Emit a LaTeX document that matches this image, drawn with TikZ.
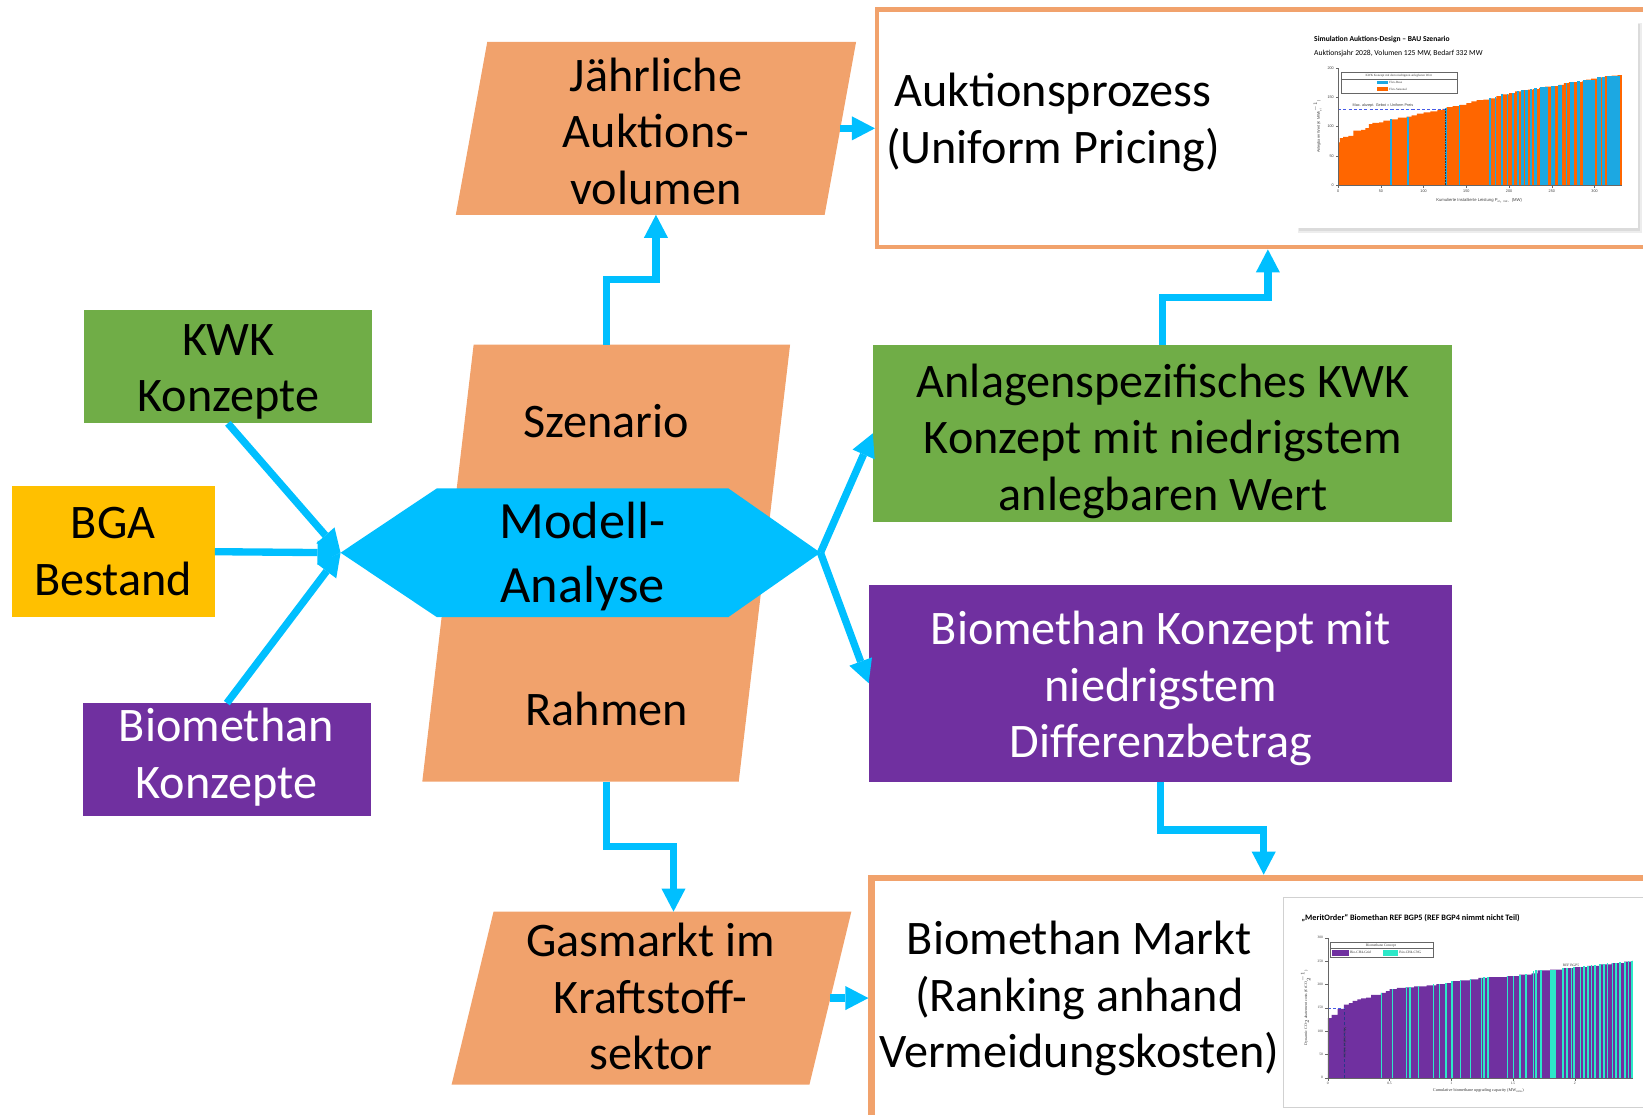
\documentclass[tikz,border=0pt]{standalone}
\usepackage{fontspec}
\setmainfont{Carlito}
\newfontfamily\plotsans{Liberation Sans}
\newfontfamily\plotserif{Liberation Serif}
\usetikzlibrary{arrows.meta,calc}

\definecolor{paraorange}{RGB}{241,162,108}
\definecolor{kwkgreen}{RGB}{112,173,71}
\definecolor{bgagold}{RGB}{255,192,0}
\definecolor{bmpurple}{RGB}{112,48,160}
\definecolor{flowblue}{RGB}{0,191,255}
\definecolor{barorange}{RGB}{255,102,0}
\definecolor{barblue}{RGB}{28,168,226}
\definecolor{barcyan}{RGB}{44,232,200}
\definecolor{refblue}{RGB}{70,90,230}

% invisible strut: 0.9em above and 0.3em below the baseline
\newcommand\linestrut{\rule[-0.3em]{0pt}{1.2em}}

\begin{document}
\begin{tikzpicture}[x=1pt,y=-1pt,
  blk/.style={inner sep=0pt, outer sep=0pt},
  lbl/.style={anchor=north, inner sep=0pt, outer sep=0pt, align=center,
              font=\fontsize{46}{54}\selectfont},
  flow/.style={draw=flowblue, line width=7pt,
               -{Triangle[length=22pt,width=23pt,line width=0pt]}},
  tiny/.style={inner sep=0pt, outer sep=0pt, text=black!75,
               font=\plotsans\fontsize{3.6}{4}\selectfont},
  tinyserif/.style={inner sep=0pt, outer sep=0pt, text=black!80,
               font=\plotserif\fontsize{3.4}{4}\selectfont},
  charttitle/.style={anchor=base west, inner sep=0pt,
               font=\bfseries\fontsize{7.2}{8}\selectfont},
  axisline/.style={draw=black!60, line width=0.3pt},
]
\useasboundingbox (0,0) rectangle (1568,1064);
\clip (0,0) rectangle (1568,1064);

% ---------- input boxes on the left
\node[blk, fill=kwkgreen, minimum width=275pt, minimum height=108pt] (kwk) at (217.5,350) {};
\node[blk, fill=bgagold,  minimum width=194pt, minimum height=125pt] (bga) at (108,526.5) {};
\node[blk, fill=bmpurple, minimum width=275pt, minimum height=108pt] (bmk) at (216.5,725) {};

% ---------- scenario / frame parallelogram
\node[blk, minimum width=302pt, minimum height=417pt] (sr) at (578.5,537.5) {};
\fill[paraorange] ($(sr.north west)+(24.5,0)$) -- ($(sr.north east)+(24.5,0)$)
  -- ($(sr.south east)+(-24.5,0)$) -- ($(sr.south west)+(-24.5,0)$) -- cycle;

% ---------- model hexagon
\node[blk, minimum width=458pt, minimum height=123pt] (ma) at (554,527.5) {};
\fill[flowblue] (ma.west) -- ($(ma.north west)+(92,0)$) -- ($(ma.north east)+(-88,0)$)
  -- (ma.east) -- ($(ma.south east)+(-88,0)$) -- ($(ma.south west)+(92,0)$) -- cycle;

% ---------- annual auction volume
\node[blk, minimum width=352pt, minimum height=165pt] (jv) at (626,122.5) {};
\fill[paraorange] ($(jv.north west)+(15,0)$) -- ($(jv.north east)+(15,0)$)
  -- ($(jv.south east)+(-15,0)$) -- ($(jv.south west)+(-15,0)$) -- cycle;

% ---------- gas market in the fuel sector
\node[blk, minimum width=341.5pt, minimum height=165pt] (gm) at (621.75,952.5) {};
\fill[paraorange] ($(gm.north west)+(20,0)$) -- ($(gm.north east)+(20,0)$)
  -- ($(gm.south east)+(-20,0)$) -- ($(gm.south west)+(-20,0)$) -- cycle;

% ---------- result boxes on the right
\node[blk, draw=paraorange, line width=4pt, fill=white, outer sep=2pt,
      minimum width=746pt, minimum height=227pt] (auk) at (1210,122.5) {};
\node[blk, fill=kwkgreen, minimum width=553pt, minimum height=169pt] (kon) at (1109.5,413.5) {};
\node[blk, fill=bmpurple, minimum width=557pt, minimum height=188pt] (pur) at (1107.5,652) {};
\node[blk, draw=paraorange, line width=6.5pt, fill=white, outer sep=3.25pt,
      minimum width=748pt, minimum height=252pt] (bm) at (1206,964) {};

% ---------- texts
\node[lbl] (kwkt) at (218,297.6) {\linestrut KWK\\Konzepte};
\node[lbl] (bgat) at (108,472.6) {\linestrut BGA\\Bestand};
\node[lbl, text=white] (bmkt) at (216,666.6) {\linestrut Biomethan\\Konzepte};
\node[lbl] (jvt) at (626,45.6) {\linestrut Jährliche\\Auktions-\\volumen};
\node[lbl] (szt) at (578.5,376.6) {\linestrut Szenario};
\node[lbl] (rat) at (579,650.6) {\linestrut Rahmen};
\node[lbl, font=\fontsize{50}{61}\selectfont] (mat) at (556,469) {\linestrut Modell-\\Analyse};
\node[lbl] (gmt) at (621,871.6) {\linestrut Gasmarkt im\\Kraftstoff-\\sektor};
\node[lbl] (aukt) at (1005,60.6) {\linestrut Auktionsprozess\\(Uniform Pricing)};
\node[lbl] (kont) at (1110,337.6) {\linestrut Anlagenspezifisches KWK\\Konzept mit niedrigstem\\anlegbaren Wert};
\node[lbl, text=white] (purt) at (1108,573.6) {\linestrut Biomethan Konzept mit\\niedrigstem\\Differenzbetrag};
\node[lbl] (bmt) at (1030,869.6) {\linestrut Biomethan Markt\\(Ranking anhand\\Vermeidungskosten)};

% ---------- connectors
\draw[flow] (kwk.south) -- (ma.west);
\draw[flow] (bga.east) -- (ma.west);
\draw[flow] (bmk.north) -- (ma.west);
\draw[flow] (sr.north) -- ++(0,-62) -| (jv.south);
\draw[flow] (jv.east) -- (auk.west);
\draw[flow] (ma.east) -- (kon.west);
\draw[flow] (ma.east) -- (pur.west);
\draw[flow] (kon.north) -- ++(0,-45) -| (auk.south);
\draw[flow] (pur.south) -- ++(0,46) -| (bm.north);
\draw[flow] (sr.south) -- ++(0,62) -| ($(gm.north)+(21,0)$);
\draw[flow] (gm.east) -- (bm.west |- gm.east);

% ---------- auction simulation slide
\fill[black!7] (1239,22) rectangle (1567.5,222.5);
\fill[black!14] (1239.5,22.5) rectangle (1565.5,220.5);
\fill[white] (1237,20) rectangle (1563,218);
\node[charttitle] (c1title) at (1254,40) {Simulation Auktions-Design – BAU Szenario};
\node[charttitle, font=\fontsize{7.3}{8}\selectfont] (c1sub) at (1254,53) {Auktionsjahr 2028, Volumen 125 MW, Bedarf 332 MW};
\begin{scope}[shift={(1277,176.5)}, x=0.816pt, y=0.558pt]
  \fill[barorange] (0,0) -- plot[const plot] coordinates {
    (0,73) (2,80) (6,82) (12,84) (18,93) (27,94) (32,97) (36,104) (40,106)
    (48,107) (53,110) (62,112) (70,115) (80,117) (86,119) (92,122) (100,124)
    (108,126) (116,128) (122,130) (127,133) (134,135) (142,137) (150,140)
    (156,143) (162,145) (170,146) (177,148) (185,152) (193,155) (200,157)
    (207,160) (214,162) (222,163) (228,164) (235,166) (242,168) (250,169)
    (258,171) (264,174) (270,176) (285,177) (290,180) (296,182) (304,184)
    (312,186) (320,187) (327,188) (332,188)} -- (332,0) -- cycle;
  \foreach \a/\b/\h in {61/62.5/112, 81/82.5/117, 125/127/132, 141/142.5/137,
      177/178.5/148, 183/184.5/151, 191/193/155, 197/199/156, 203/206/158,
      209/211/161, 214/217/162, 219/222/163, 224/227/164, 229/233/165,
      236/246/167, 249/254/169, 257/262/171, 266/268/175, 271/276/176,
      279/283/177, 287/300/180, 303/307/184, 309/312/185, 314/330/187}
    \fill[barblue] (\a,0) rectangle (\b,\h);
  \draw[refblue, densely dashed, line width=0.5pt] (0,130) -- (125,130);
  \draw[black!80, densely dotted, line width=0.5pt] (125.8,0) -- (125.8,130);
  \node[tiny, anchor=south west] (c1max) at (17,132) {Max. akzept. Gebot = Uniform Preis};
  \draw[axisline] (0,200) -- (0,0) -- (332,0);
  \foreach \v in {0,50,...,200} {
    \draw[axisline] (0,\v) -- (-3,\v);
    \node[tiny, anchor=east] (c1y\v) at (-5,\v) {\v};
  }
  \foreach \v in {0,50,...,300} {
    \draw[axisline] (\v,0) -- (\v,-5);
    \node[tiny, anchor=north] (c1x\v) at (\v,-9) {\v};
  }
  \node[tiny, rotate=90] (c1ylab) at (-24,100) {Anlegbarer Wert (€ MWh$^{-1}_{\mathrm{el}}$)};
  \node[tiny, font=\plotsans\fontsize{4}{5}\selectfont] (c1xlab) at (165,-28) {Kumulierte Installierte Leistung P$_{\mathrm{el,\,inst.}}$ (MW)};
  % legend
  \draw[black!60, line width=0.3pt, fill=white] (3,193) rectangle (139,157);
  \draw[black!60, line width=0.3pt] (3,181) -- (139,181);
  \node[tinyserif, font=\plotserif\fontsize{3}{4}\selectfont] (c1legh) at (71,187) {KWK Konzept mit dem niedrigsten anlegbaren Wert};
  \fill[barblue] (45,172.5) rectangle (58,178.5);
  \node[tinyserif, font=\plotserif\fontsize{3}{4}\selectfont, anchor=west] (c1leg1) at (60,175.5) {Flex-Base};
  \fill[barorange] (45,161) rectangle (58,167);
  \node[tinyserif, font=\plotserif\fontsize{3}{4}\selectfont, anchor=west] (c1leg2) at (60,164) {Flex-Saisonal};
\end{scope}

% ---------- biomethane merit order slide
\draw[black!18, line width=0.8pt, fill=white] (1225,856) rectangle (1580,1057);
\node[charttitle, font=\bfseries\fontsize{7.9}{9}\selectfont] (c2title) at (1242,878) {„MeritOrder“ Biomethan REF BGP5 (REF BGP4 nimmt nicht Teil)};
\begin{scope}[shift={(1267.2,1028.6)}, x=117.8pt, y=0.4453pt]
  \fill[bmpurple] (0,0) -- plot[const plot] coordinates {
    (0,128) (0.03,135) (0.08,148) (0.13,157) (0.17,160) (0.2,165) (0.24,168)
    (0.27,170) (0.31,172) (0.35,178) (0.43,182) (0.47,186) (0.5,190)
    (0.56,193) (0.63,194) (0.7,196) (0.8,198) (0.88,201) (0.95,203)
    (1.0,207) (1.08,209) (1.15,211) (1.22,214) (1.3,216) (1.45,218)
    (1.55,221) (1.65,224) (1.7,230) (1.8,232) (1.9,235) (2.0,237) (2.1,240)
    (2.2,243) (2.3,246) (2.4,249) (2.47,252)} -- (2.47,0) -- cycle;
  \foreach \a/\h in {0.43/182, 0.52/190, 0.63/194, 0.66/195, 0.73/196,
      0.85/200, 0.90/201, 0.95/203, 1.00/207, 1.07/209, 1.15/211, 1.24/214,
      1.26/215, 1.29/216, 1.45/218, 1.50/219, 1.55/221, 1.60/222, 1.66/228,
      1.68/230, 1.72/230, 1.90/235, 1.93/235, 1.97/236, 1.99/237, 2.04/238,
      2.07/239, 2.10/240, 2.13/241, 2.16/242, 2.20/243, 2.23/244, 2.26/245,
      2.30/246, 2.33/247, 2.36/248, 2.40/249, 2.43/250, 2.46/251}
    \fill[barcyan] (\a,0) rectangle ++(0.012,\h);
  \fill[barcyan] (1.80,0) rectangle (1.845,232);
  \draw[refblue, densely dashed, line width=0.5pt] (0,148) -- (0.13,148);
  \draw[refblue!60!black, densely dashed, line width=0.5pt] (0.13,0) -- (0.13,148);
  \node[tinyserif, rotate=-90, anchor=south] (c2mmv) at (0.13,75) {Max. market volume};
  \node[tinyserif, anchor=south] (c2ref) at (1.97,238) {REF BGP5};
  \draw[axisline] (0,300) -- (0,0) -- (2.47,0);
  \foreach \v in {0,50,...,300} {
    \draw[axisline] (0,\v) -- (-0.025,\v);
    \node[tinyserif, anchor=east] (c2y\v) at (-0.04,\v) {\v};
  }
  \foreach \v [count=\i] in {0,0.5,1,1.5,2} {
    \draw[axisline] (\v,0) -- (\v,-6);
    \node[tinyserif, anchor=north] (c2x\i) at (\v,-10) {\v};
  }
  \node[tinyserif, rotate=90, font=\plotserif\fontsize{3.8}{4}\selectfont] (c2ylab) at (-0.18,150) {Dynamic CO$_2$ abatement costs (€ tCO$_2^{-1}$)};
  \node[tinyserif, font=\plotserif\fontsize{4}{5}\selectfont] (c2xlab) at (1.22,-28) {Cumulative biomethane upgrading capacity (MW$_{\mathrm{conv}}$)};
  % legend
  \draw[black!60, line width=0.3pt, fill=white] (0.016,291) rectangle (0.851,259);
  \draw[black!60, line width=0.3pt] (0.016,277) -- (0.851,277);
  \node[tinyserif] (c2legh) at (0.43,284) {Biomethane Concept};
  \fill[bmpurple] (0.03,262) rectangle (0.17,274);
  \node[tinyserif, anchor=west] (c2leg1) at (0.18,268) {Bio-CH4-Grid};
  \fill[barcyan] (0.45,262) rectangle (0.57,274);
  \node[tinyserif, anchor=west] (c2leg2) at (0.58,268) {Bio-CH4-CNG};
\end{scope}
\end{tikzpicture}
\end{document}
